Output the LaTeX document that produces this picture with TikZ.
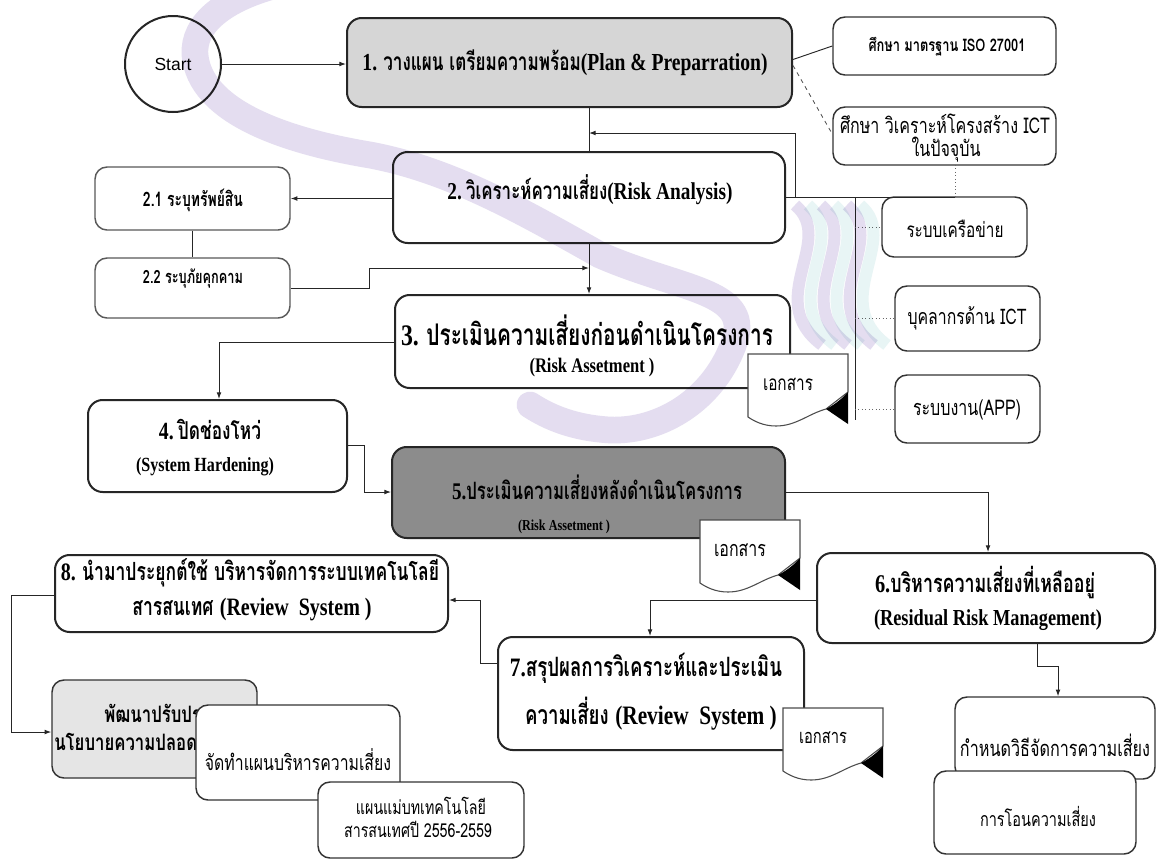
\documentclass[tikz,border=0pt]{standalone}
\usepackage{fontspec}
\setmainfont{Liberation Serif}
\setsansfont{Liberation Sans}
\newfontfamily\thaifont[Script=Thai,FakeStretch=0.7]{Loma}
\newfontfamily\thaisans[Script=Thai,FakeStretch=0.74]{Loma}
\newfontfamily\serifc[FakeStretch=0.8]{Liberation Serif}
\usetikzlibrary{arrows.meta,fit,calc}
\definecolor{wmark}{RGB}{228,221,240}
\definecolor{wmaqua}{RGB}{232,245,245}
\newdimen\pxu \pxu=0.75pt
% set a text to a given width (px)
\newcommand\fw[2]{\resizebox{#1\pxu}{!}{#2}}
% scale #3 by the factor that brings #2 to width #1 (px)
\newcommand\fws[3]{\setbox0=\hbox{#2}\pgfmathsetmacro\fac{#1*0.75/\the\wd0}\scalebox{\fac}{#3}}
\newcommand\thb[1]{{\thaifont\bfseries #1}}
\newcommand\thr[1]{{\thaisans #1}}
\newcommand\rb[1]{{\serifc\bfseries #1}}

% document symbol: #1 label name, #2 top-left corner, #3 label width (px)
\newcommand\docsym[3]{%
  \begin{scope}[shift={#2}]
    \draw[docline] (0,0) -- (100,0) -- (100,38) -- (78,55)
      .. controls (60,60) and (48,72) .. (28,72)
      .. controls (15,72) and (6,67) .. (0,63) -- cycle;
    \fill[black] (100,38) .. controls (92,47) and (84,52) .. (78,55) -- (100,70) -- cycle;
    \node[lbl] (#1) at (40,30) {\fw{#3}{\thr{เอกสาร}}};
  \end{scope}}

\begin{document}
\begin{tikzpicture}[x=0.75pt,y=-0.75pt,
  box/.style={draw=black!85, line width=1.5pt, rounded corners=11pt, inner sep=0pt, fill=white},
  sbox/.style={draw=black!80, line width=1.1pt, rounded corners=9pt, inner sep=0pt, fill=white},
  gbox/.style={draw=black!65, line width=1.1pt, rounded corners=9pt, inner sep=0pt, fill=white},
  lbl/.style={inner sep=0pt},
  conn/.style={draw=black!85, line width=0.7pt},
  arr/.style={conn, -{Latex[length=5pt,width=3.6pt]}},
  dotl/.style={draw=black!60, line width=0.6pt, dotted},
  dashl/.style={draw=black!70, line width=0.6pt, dashed},
  docline/.style={draw=black!70, line width=0.8pt, fill=white},
]
\useasboundingbox[fill=white] (0,0) rectangle (1157,865);

% ---------- routing points ----------
\coordinate (c1) at (589,0);
\coordinate (busy) at (0,197);
\coordinate (fb) at (795,133);
\coordinate (ictd) at (955,165);
\coordinate (bus) at (855,0);
\coordinate (busend) at (855,420);
\coordinate (j22) at (369,268);
\coordinate (k34) at (219,342);
\coordinate (k45a) at (364,445);
\coordinate (k45b) at (364,492);
\coordinate (k56) at (988,492);
\coordinate (k67) at (650,600);
\coordinate (k78a) at (480,663);
\coordinate (k78b) at (480,600);
\coordinate (k8a) at (11,595);
\coordinate (k8b) at (11,732);
\coordinate (k6a) at (1037,666);
\coordinate (k6b) at (1058,666);

% ---------- boxes ----------
\node[circle, draw=black!85, line width=1.5pt, minimum size=72pt, inner sep=0pt, fill=white] (start) at (173,64) {};
\node[box, fill=black!16, fit={(347,18) (792,107)}] (b1) {};
\node[sbox, fit={(833,17) (1056,75)}] (iso) {};
\node[sbox, fit={(833,107) (1056,165)}] (ict) {};
\node[box, fit={(393,152) (785,243)}] (b2) {};
\node[gbox, fit={(95,167) (290,230)}] (b21) {};
\node[gbox, fit={(95,258) (290,318)}] (b22) {};
\node[sbox, fit={(882,197) (1027,257)}] (net) {};
\node[sbox, fit={(895,286) (1040,351)}] (per) {};
\node[sbox, fit={(895,375) (1040,443)}] (app) {};
\node[box, fit={(395,295) (790,388)}] (b3) {};
\node[box, fit={(88,400) (347,492)}] (b4) {};
\node[box, fill=black!45, fit={(392,447) (785,538)}] (b5) {};
\node[box, fit={(817,553) (1155,643)}] (b6) {};
\node[box, fit={(498,637) (804,750)}] (b7) {};
\node[box, fit={(55,555) (448,632)}] (b8) {};
\node[sbox, fill=black!10, fit={(52,680) (257,778)}] (pat) {};
\node[sbox, fit={(955,697) (1155,779)}] (kam) {};

% ---------- connectors ----------
\draw[arr] (start.east) -- (start.east -| b1.west);
\draw[conn] ($(b1.east)+(0,-3)$) -- (iso.west);
\draw[dashl] ($(b1.east)+(0,3)$) -- ($(ict.west)+(0,-2)$);
\draw[conn] (b1.south -| c1) -- (b2.north -| c1);
\draw[conn] (b2.east |- busy) -- (ictd |- busy);
\draw[dotl] (ictd) -- (ictd |- busy);
\draw[arr] (fb |- busy) -- (fb) -- (fb -| c1);
\draw[conn] (bus |- busy) -- (busend);
\draw[dotl] (bus |- net) -- (net.west);
\draw[dotl] (bus |- per) -- (per.west);
\draw[dotl] (bus |- app) -- (app.west);
\draw[arr] (b2.west |- b21) -- (b21.east);
\draw[conn] (b21.south) -- (b22.north);
\draw[arr] (b22.east) -| (j22) -- (j22 -| c1);
\draw[arr] (b2.south -| c1) -- (b3.north -| c1);
\draw[arr] (k34 -| b3.west) -- (k34) -- (k34 |- b4.north);
\draw[arr] (k45a -| b4.east) -- (k45a) -- (k45b) -- (k45b -| b5.west);
\draw[arr] (k56 -| b5.east) -- (k56) -- (k56 |- b6.north);
\draw[arr] (k67 -| b6.west) -- (k67) -- (k67 |- b7.north);
\draw[arr] (k78a -| b7.west) -- (k78a) -- (k78b) -- (k78b -| b8.east);
\draw[arr] (k8a -| b8.west) -- (k8a) -- (k8b) -- (k8b -| pat.west);
\draw[arr] (b6.south -| k6a) -- (k6a) -- (k6b) -- (k6b |- kam.north);

% ---------- labels ----------
\node[lbl] (startt) at (173,64) {\fw{37}{\sffamily Start}};
\node[lbl] (b1t) at (565,63) {\fw{405}{\rb{1.}\ \thb{วางแผน เตรียมความพร้อม}\rb{(Plan \& Preparration)}}};
\node[lbl] (isot) at (947,47) {\fw{157}{\thr{\bfseries ศึกษา มาตรฐาน ISO 27001}}};
\node[lbl] (ict1) at (945,124) {\fw{210}{\thr{ศึกษา วิเคราะห์โครงสร้าง ICT}}};
\node[lbl] (ict2) at (946,150) {\fws{210}{\thr{ศึกษา วิเคราะห์โครงสร้าง ICT}}{\thr{ในปัจจุบัน}}};
\node[lbl] (b2t) at (590,190) {\fw{285}{\rb{2.}\,\thb{วิเคราะห์ความเสี่ยง}\rb{(Risk Analysis)}}};
\node[lbl] (b21t) at (193,200) {\fw{100}{\thb{2.1 ระบุทรัพย์สิน}}};
\node[lbl] (b22t) at (193,279) {\fw{100}{\thb{2.2 ระบุภัยคุกคาม}}};
\node[lbl] (nett) at (955,229) {\fw{97}{\thr{ระบบเครือข่าย}}};
\node[lbl] (pert) at (967,318) {\fw{119}{\thr{บุคลากรด้าน ICT}}};
\node[lbl] (appt) at (967,410) {\fw{108}{\thr{ระบบงาน(APP)}}};
\node[lbl] (b3a) at (587,330) {\fw{372}{\rb{3.}\ \thb{ประเมินความเสี่ยงก่อนดำเนินโครงการ}}};
\node[lbl] (b3b) at (592,368) {\fw{125}{\rb{(Risk Assetment )}}};
\node[lbl] (b4a) at (210,430) {\fw{102}{\rb{4.}\,\thb{ปิดช่องโหว่}}};
\node[lbl] (b4b) at (205,467) {\fw{138}{\rb{(System Hardening)}}};
\node[lbl] (b5a) at (597,487) {\fw{290}{\rb{5.}\thb{ประเมินความเสี่ยงหลังดำเนินโครงการ}}};
\node[lbl] (b5b) at (564,527) {\fw{92}{\rb{(Risk Assetment )}}};
\node[lbl] (b6a) at (985,583) {\fw{220}{\rb{6.}\thb{บริหารความเสี่ยงที่เหลืออยู่}}};
\node[lbl] (b6b) at (988,620) {\fw{228}{\rb{(Residual Risk Management)}}};
\node[lbl] (b7a) at (646,668) {\fw{272}{\rb{7.}\thb{สรุปผลการวิเคราะห์และประเมิน}}};
\node[lbl] (b7b) at (651,714) {\fws{272}{\rb{7.}\thb{สรุปผลการวิเคราะห์และประเมิน}}{\thb{ความเสี่ยง} \rb{(Review\ \ System )}}};
\node[lbl] (b8a) at (250,573) {\fw{378}{\rb{8.}\ \thb{นำมาประยุกต์ใช้ บริหารจัดการระบบเทคโนโลยี}}};
\node[lbl] (b8b) at (252,610) {\fws{378}{\rb{8.}\ \thb{นำมาประยุกต์ใช้ บริหารจัดการระบบเทคโนโลยี}}{\thb{สารสนเทศ} \rb{(Review\ \ System )}}};
\node[lbl, anchor=west] (pat1) at (104,716) {\fw{105}{\thr{\bfseries พัฒนาปรับปรุง}}};
\node[lbl, anchor=west] (pat2) at (54,741) {\fws{105}{\thr{\bfseries พัฒนาปรับปรุง}}{\thr{\bfseries นโยบายความปลอดภัย}}};
\node[sbox, fit={(196,705) (400,800)}] (jad) {};
\node[lbl] (jadt) at (298,760) {\fw{186}{\thr{จัดทำแผนบริหารความเสี่ยง}}};
\node[sbox, fit={(318,782) (524,858)}] (plan) {};
\node[lbl] (plan1) at (421,806) {\fw{130}{\thr{แผนแม่บทเทคโนโลยี}}};
\node[lbl] (plan2) at (418,829) {\fws{130}{\thr{แผนแม่บทเทคโนโลยี}}{\thr{สารสนเทศปี 2556-2559}}};
\node[lbl] (kamt) at (1055,745) {\fw{190}{\thr{กำหนดวิธีจัดการความเสี่ยง}}};
\node[sbox, fit={(934,771) (1136,854)}] (on) {};
\node[lbl] (ont) at (1038,816) {\fw{116}{\thr{การโอนความเสี่ยง}}};

% ---------- document symbols ----------
\docsym{d1}{(748,354)}{50}
\docsym{d2}{(700,520)}{52}
\docsym{d3}{(783,708)}{48}

% ---------- faint logo printed over the page ----------
\begin{scope}[blend mode=multiply]
  \clip (0,0) rectangle (1157,865);
  \draw[wmark, line width=20pt, line cap=round]
    (440,-20) .. controls (330,-40) and (190,-10) .. (195,55)
    .. controls (200,110) and (280,140) .. (370,155)
    .. controls (450,170) and (520,210) .. (600,255)
    .. controls (680,290) and (750,290) .. (735,340)
    .. controls (715,400) and (660,432) .. (610,430)
    .. controls (575,428) and (550,418) .. (530,405);
  \foreach \dx in {0,26,52} {
    \draw[wmaqua, line width=9pt] (808+\dx,205) .. controls (850+\dx,240) and (775+\dx,300) .. (835+\dx,345);
    \draw[wmark, line width=9pt] (795+\dx,205) .. controls (837+\dx,240) and (762+\dx,300) .. (822+\dx,345);
  }
\end{scope}
\end{tikzpicture}
\end{document}
